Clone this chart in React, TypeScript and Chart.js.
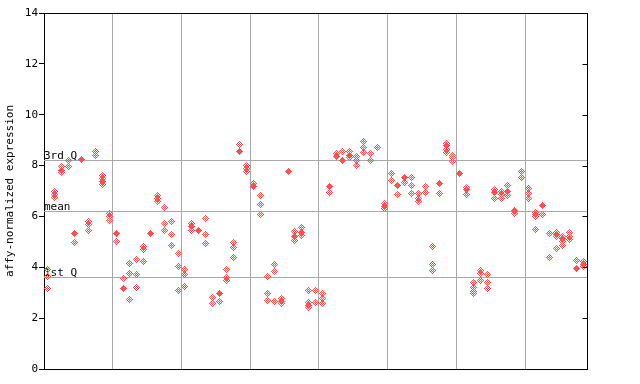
import React, { useEffect, useRef } from "react";
import { Chart, registerables } from "chart.js";

Chart.register(...registerables);

// ---- data ----
const yTitle = "affy-normalized expression";
const Y_MIN = 0;
const Y_MAX = 14;
const Y_STEP = 2;
const refLabels = ["3rd Q", "mean", "1st Q"];
const refValues = [8.22, 6.22, 3.62];
const groupBoundaries = [9.5, 19.5, 29.5, 39.5, 49.5, 59.5, 69.5];

// highlighted (solid) value per sample, null when none
const highlighted: (number | null)[] = [
  null, null, 7.81, null, 5.33, 8.22, null, null, 7.36, null,
  5.31, 3.17, null, null, null, 5.33, null, null, null, null,
  null, 5.6, 5.45, null, null, 2.97, null, null, 8.55, null,
  7.18, null, null, null, 2.67, 7.77, 5.2, 5.38, 2.5, null,
  null, 7.18, 8.36, 8.2, 8.4, null, null, null, null, 6.41,
  null, 7.22, 7.54, null, null, null, null, 7.3, 8.77, null,
  7.69, 7.04, null, null, null, 6.94, null, 6.98, 6.25, null,
  null, 6.09, 6.43, null, 5.29, 5.12, null, 3.96, 4.1,
];

// other values per sample (hatched)
const others: number[][] = [
  [3.9, 3.64, 3.18], [6.97, 6.85, 6.73], [7.97, 7.71], [8.2, 7.97], [4.99],
  [], [5.79, 5.68, 5.46], [8.55, 8.4], [7.62, 7.48, 7.25], [6.13, 6.0, 5.83],
  [5.02], [3.54], [4.13, 3.74, 2.75], [4.29, 3.7, 3.19], [4.82, 4.68, 4.22],
  [], [6.82, 6.71, 6.6], [6.37, 5.74, 5.43], [5.82, 5.27, 4.84], [4.56, 4.05, 3.07],
  [3.9, 3.73, 3.26], [5.74, 5.45], [], [5.9, 5.27, 4.95], [2.83, 2.56],
  [2.67], [3.93, 3.58, 3.48], [4.99, 4.76, 4.4], [8.81], [8.02, 7.88, 7.76],
  [7.31], [6.84, 6.45, 6.09], [3.62, 2.95, 2.71], [4.09, 3.85, 2.64], [2.79, 2.57],
  [], [5.39, 5.07], [5.58, 5.25], [3.07, 2.6, 2.42], [3.07, 2.61],
  [2.95, 2.79, 2.57], [6.96], [8.49], [8.55], [8.56, 8.3],
  [8.35, 8.18, 8.02], [8.95, 8.73, 8.53], [8.49, 8.18], [8.73], [6.49, 6.33],
  [7.67, 7.43], [6.88], [7.35], [7.55, 7.2, 6.92], [6.92, 6.71, 6.6],
  [7.16, 6.96], [4.8, 4.11, 3.88], [6.92], [8.87, 8.65, 8.53], [8.41, 8.3, 8.17],
  [], [7.12, 6.88], [3.42, 3.2, 3.05, 2.95], [3.89, 3.76, 3.5], [3.7, 3.42, 3.18],
  [7.04, 6.72], [7.0, 6.85, 6.72], [7.2, 6.84], [6.13], [7.75, 7.55],
  [7.09, 6.89, 6.69], [6.17, 6.0, 5.47], [6.06], [5.31, 4.37], [5.37, 5.2, 4.72],
  [5.22, 5.03, 4.84], [5.37, 5.23, 5.1], [4.25], [4.21, 4.04],
];

// ---- styles ----
const RED = "rgb(255,80,80)";
const GRID = "#a8a8a8";
const FONT = "DejaVu Sans Mono";

function makeDiamond(hatched: boolean) {
  const c = document.createElement("canvas");
  c.width = 7;
  c.height = 7;
  const ctx = c.getContext("2d")!;
  ctx.fillStyle = RED;
  for (let dy = -3; dy <= 3; dy++) {
    for (let dx = -3; dx <= 3; dx++) {
      if (Math.abs(dx) + Math.abs(dy) > 3) continue;
      if (hatched && (dx + dy + 7) % 2 !== 0) continue;
      ctx.fillRect(dx + 3, dy + 3, 1, 1);
    }
  }
  return c;
}

const framePlugin = {
  id: "frame",
  beforeDraw(chart: any) {
    chart.ctx.imageSmoothingEnabled = false;
  },
  beforeDatasetsDraw(chart: any) {
    const { ctx, chartArea: a, scales } = chart;
    const y = scales.y;
    ctx.save();
    ctx.lineWidth = 1;
    ctx.font = `11px ${FONT}`;
    ctx.textAlign = "left";
    ctx.textBaseline = "alphabetic";
    refValues.forEach((v, i) => {
      const py = Math.round(y.getPixelForValue(v)) + 0.5;
      ctx.strokeStyle = GRID;
      ctx.beginPath();
      ctx.moveTo(a.left, py);
      ctx.lineTo(a.right, py);
      ctx.stroke();
      ctx.fillStyle = "#000";
      ctx.fillText(refLabels[i], a.left, py - 2);
    });
    ctx.restore();
  },
  afterDraw(chart: any) {
    const { ctx, chartArea: a, scales } = chart;
    const y = scales.y;
    ctx.save();
    ctx.strokeStyle = "#000";
    ctx.lineWidth = 1;
    const top = Math.round(a.top) + 0.5;
    const right = Math.round(a.right) + 0.5;
    ctx.beginPath();
    ctx.moveTo(a.left, top);
    ctx.lineTo(right, top);
    ctx.moveTo(right, a.top);
    ctx.lineTo(right, a.bottom);
    for (let v = Y_MIN; v <= Y_MAX; v += Y_STEP) {
      const py = Math.round(y.getPixelForValue(v)) + 0.5;
      ctx.moveTo(right - 5, py);
      ctx.lineTo(right, py);
    }
    ctx.stroke();
    ctx.restore();
  },
};

export default function App() {
  const ref = useRef<HTMLCanvasElement | null>(null);

  useEffect(() => {
    if (!ref.current) return;
    const solidPts: { x: number; y: number }[] = [];
    const otherPts: { x: number; y: number }[] = [];
    highlighted.forEach((v, i) => {
      if (v !== null) solidPts.push({ x: i, y: v });
    });
    others.forEach((arr, i) => arr.forEach((v) => otherPts.push({ x: i, y: v })));

    const chart = new Chart(ref.current, {
      type: "scatter",
      data: {
        datasets: [
          {
            data: solidPts,
            pointStyle: makeDiamond(false) as any,
            pointRadius: 3.5,
          },
          {
            data: otherPts,
            pointStyle: makeDiamond(true) as any,
            pointRadius: 3.5,
          },
        ],
      },
      options: {
        animation: false,
        responsive: false,
        events: [],
        layout: { padding: { top: 13, right: 53, bottom: 0, left: 0 } },
        plugins: { legend: { display: false }, tooltip: { enabled: false } },
        scales: {
          x: {
            type: "linear",
            min: -0.5,
            max: 78.5,
            afterBuildTicks: (s: any) => {
              s.ticks = groupBoundaries.map((v) => ({ value: v }));
            },
            afterFit: (s: any) => {
              s.height = 15;
            },
            ticks: { display: false },
            grid: { color: GRID, drawTicks: false, lineWidth: 1 },
            border: { display: true, color: "#000", width: 1 },
          },
          y: {
            min: Y_MIN,
            max: Y_MAX,
            afterFit: (s: any) => {
              s.width = 44;
            },
            ticks: {
              stepSize: Y_STEP,
              color: "#000",
              font: { family: FONT, size: 11 },
              padding: 1,
            },
            grid: { drawOnChartArea: false, drawTicks: true, tickLength: 5, color: "#000" },
            border: { display: true, color: "#000", width: 1 },
            title: {
              display: true,
              text: yTitle,
              color: "#000",
              font: { family: FONT, size: 11 },
              padding: { top: 4, bottom: 0 },
            },
          },
        },
      },
      plugins: [framePlugin],
    });
    return () => chart.destroy();
  }, []);

  return (
    <div style={{ position: "absolute", left: 0, top: 0, width: 640, height: 384, background: "#fff" }}>
      <canvas ref={ref} width={640} height={384} style={{ display: "block" }} />
    </div>
  );
}
